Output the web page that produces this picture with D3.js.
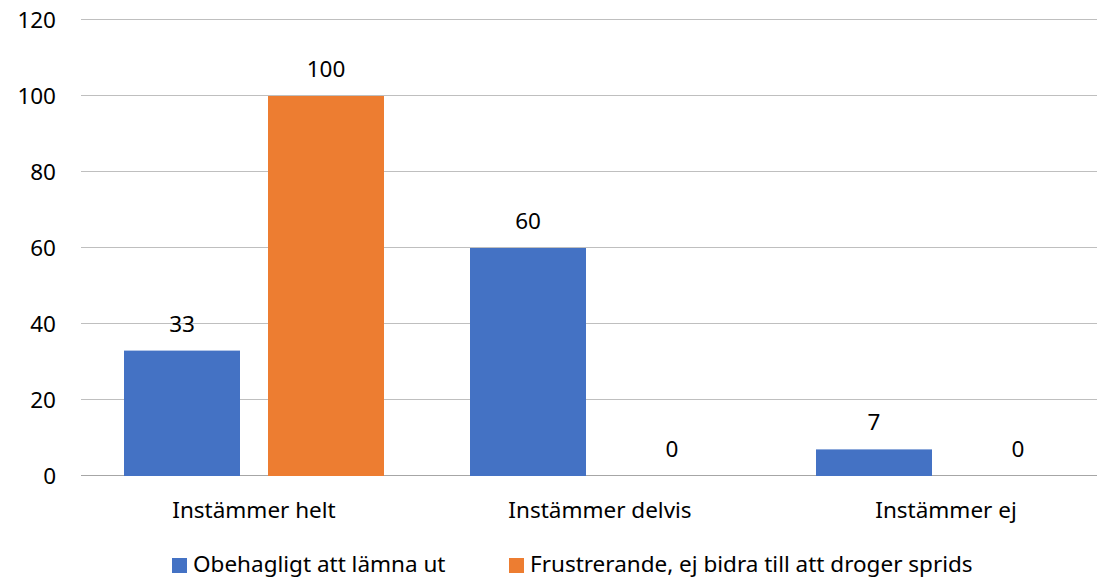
<!DOCTYPE html>
<html>
<head>
<meta charset="utf-8">
<script src="https://cdn.jsdelivr.net/npm/d3@7"></script>
<style>
  body { margin: 0; background: #fff; }
  text { font-family: "Noto Sans", "Open Sans", sans-serif; fill: #000; font-size: 22.5px; }
</style>
</head>
<body>
<div id="chart"></div>
<script>
// data
var categories = ["Instämmer helt", "Instämmer delvis", "Instämmer ej"];
var seriesNames = ["Obehagligt att lämna ut", "Frustrerande, ej bidra till att droger sprids"];
var obehagligt = [33, 60, 7];
var frustrerande = [100, 0, 0];
var yTicks = [0, 20, 40, 60, 80, 100, 120];
var colors = ["#4472c4", "#ed7d31"];

var width = 1097, height = 580;

var svg = d3.select("#chart")
    .append("svg")
    .attr("width", width)
    .attr("height", height);

// plot area is cut off on the right in the original, so the range runs past the edge
var x0 = d3.scaleBand()
    .domain(categories)
    .range([81, 1119]);

var x1 = d3.scaleBand()
    .domain(seriesNames)
    .range([0, x0.bandwidth()])
    .paddingInner(28 / 144)
    .paddingOuter(43 / 144);

var y = d3.scaleLinear()
    .domain([0, 120])
    .range([476, 20]);

// gridlines
svg.append("g")
    .selectAll("line")
    .data(yTicks)
    .enter()
    .append("line")
    .attr("x1", 81)
    .attr("x2", 1119)
    .attr("y1", function (d) { return y(d) - 0.5; })
    .attr("y2", function (d) { return y(d) - 0.5; })
    .attr("stroke", function (d) { return d === 0 ? "#a6a6a6" : "#bfbfbf"; })
    .attr("stroke-width", 1);

// y tick labels
svg.append("g")
    .selectAll("text")
    .data(yTicks)
    .enter()
    .append("text")
    .attr("x", 56)
    .attr("y", function (d) { return y(d); })
    .attr("dy", "0.35em")
    .attr("text-anchor", "end")
    .text(function (d) { return d; });

var rows = categories.map(function (c, i) {
    return { cat: c, values: [obehagligt[i], frustrerande[i]] };
});

var groups = svg.append("g")
    .selectAll("g")
    .data(rows)
    .enter()
    .append("g")
    .attr("transform", function (d) { return "translate(" + x0(d.cat) + ",0)"; });

var cells = groups.selectAll("g")
    .data(function (d) {
        return seriesNames.map(function (s, j) { return { s: s, v: d.values[j], j: j }; });
    })
    .enter()
    .append("g");

cells.append("rect")
    .attr("x", function (d) { return x1(d.s); })
    .attr("width", x1.bandwidth())
    .attr("y", function (d) { return y(d.v); })
    .attr("height", function (d) { return y(0) - y(d.v); })
    .attr("fill", function (d) { return colors[d.j]; });

// value labels
cells.append("text")
    .attr("x", function (d) { return x1(d.s) + x1.bandwidth() / 2; })
    .attr("y", function (d) { return y(d.v) - 19; })
    .attr("text-anchor", "middle")
    .text(function (d) { return d.v; });

// category labels
svg.append("g")
    .selectAll("text")
    .data(categories)
    .enter()
    .append("text")
    .attr("x", function (d) { return x0(d) + x0.bandwidth() / 2; })
    .attr("y", 518)
    .attr("text-anchor", "middle")
    .text(function (d) { return d; });

// legend
var legendX = [172, 509];
var legend = svg.append("g")
    .selectAll("g")
    .data(seriesNames)
    .enter()
    .append("g")
    .attr("transform", function (d, i) { return "translate(" + legendX[i] + ",558)"; });

legend.append("rect")
    .attr("width", 15)
    .attr("height", 15)
    .attr("fill", function (d, i) { return colors[i]; });

legend.append("text")
    .attr("x", 21)
    .attr("y", 14)
    .text(function (d) { return d; });
</script>
</body>
</html>
